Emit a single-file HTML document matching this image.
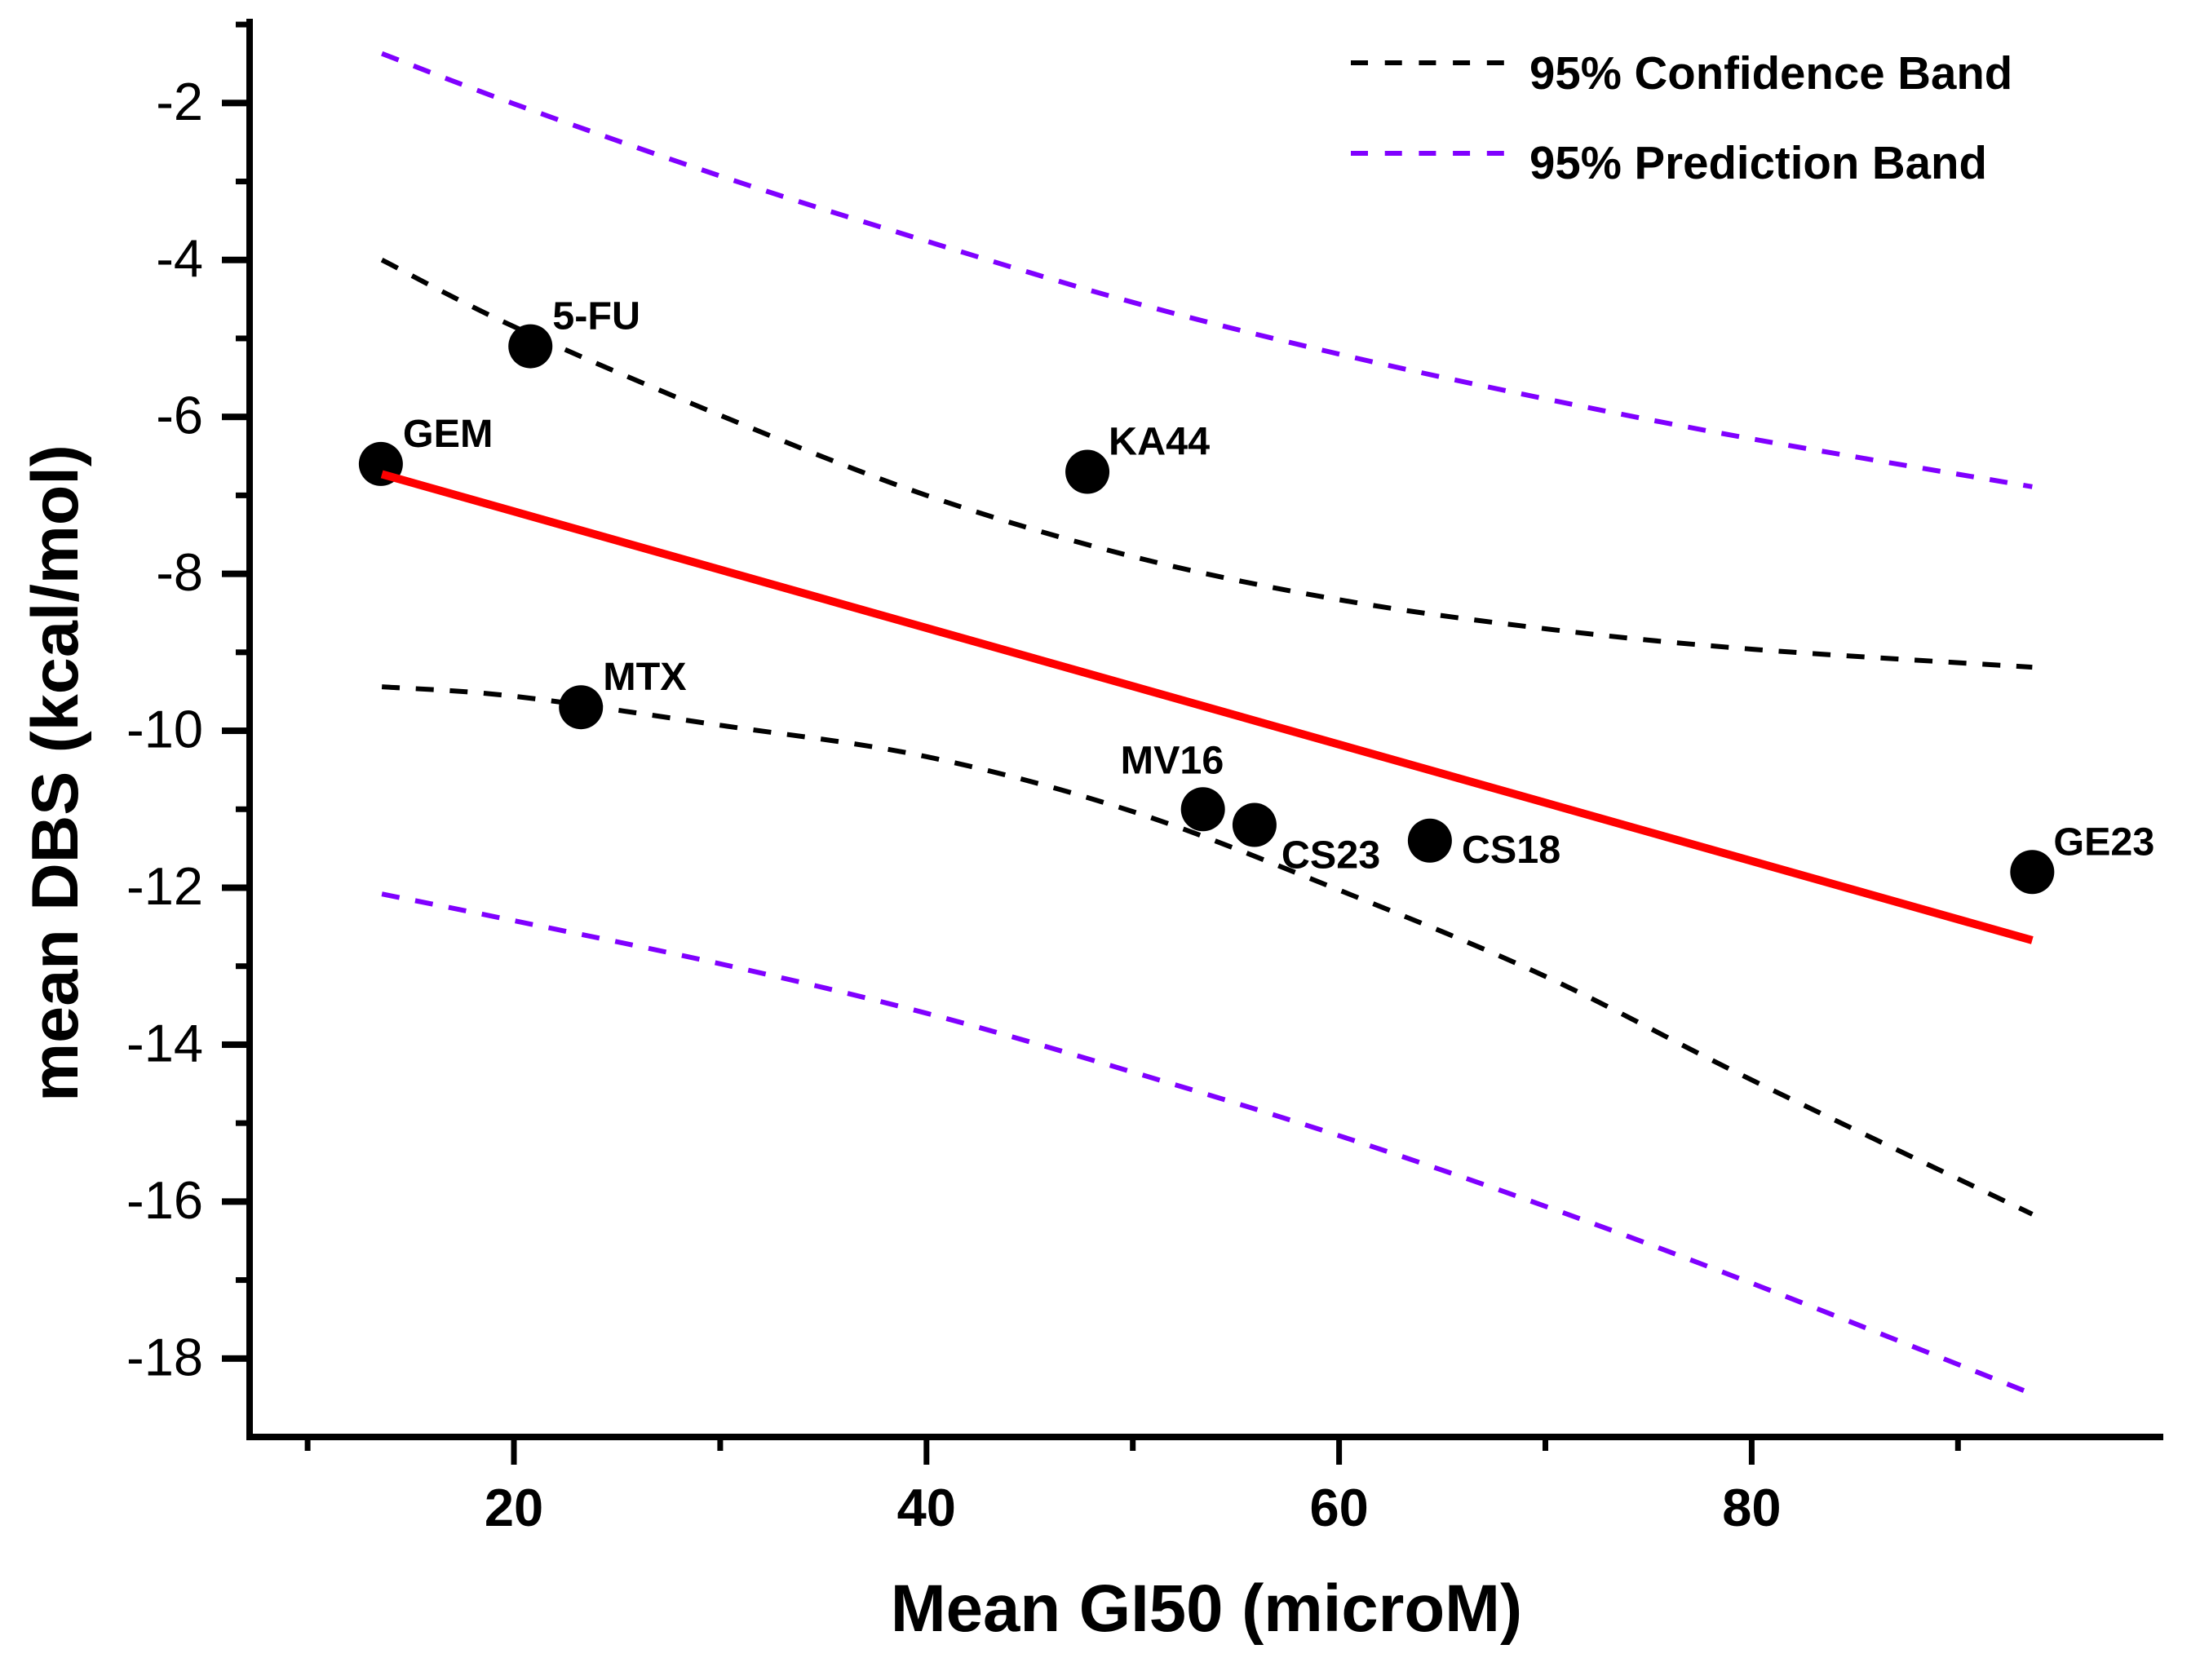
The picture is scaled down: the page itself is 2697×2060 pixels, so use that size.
<!DOCTYPE html>
<html lang="en">
<head>
<meta charset="utf-8">
<title>Mean DBS vs Mean GI50</title>
<style>
  html, body { margin: 0; padding: 0; background: #ffffff; }
  body { width: 2697px; height: 2060px; overflow: hidden; }
  svg { display: block; }
  text { font-family: "Liberation Sans", Arial, sans-serif; fill: #000000; }
  .bold { font-weight: 700; }
</style>
</head>
<body>
<svg id="chart" xmlns="http://www.w3.org/2000/svg" width="2697" height="2060" viewBox="0 0 2697 2060">
  <rect x="0" y="0" width="2697" height="2060" fill="#ffffff"/>
  <g id="bands"></g>
  <g id="points"></g>
  <g id="fit"></g>
  <g id="labels"></g>
  <g id="axes"></g>

  <text class="bold" font-size="81" text-anchor="middle" transform="translate(95 948) rotate(-90)">mean DBS (kcal/mol)</text>
  <text class="bold" font-size="81.5" text-anchor="middle" x="1479" y="2000">Mean GI50 (microM)</text>

  <g>
    <line x1="1656" y1="77" x2="1844" y2="77" stroke="#000000" stroke-width="6" stroke-dasharray="21 20.7"/>
    <text class="bold" font-size="56.4" x="1875" y="109">95% Confidence Band</text>
    <line x1="1656" y1="188" x2="1844" y2="188" stroke="#8000ff" stroke-width="6" stroke-dasharray="21 20.7"/>
    <text class="bold" font-size="56.4" x="1875" y="219">95% Prediction Band</text>
  </g>
</svg>
<script>
// ----- chart data -----
const pointNames = ["GEM", "5-FU", "KA44", "MTX", "MV16", "CS23", "CS18", "GE23"];
const pointGI50 = [13.55, 20.8, 47.8, 23.25, 53.4, 55.9, 64.4, 93.6];
const pointDBS = [-6.6, -5.1, -6.7, -9.7, -11.0, -11.2, -11.4, -11.8];

const fitGI50 = [13.6, 93.6];
const fitDBS = [-6.73, -12.67];

const bandGI50 = [13.6, 20, 30, 40, 50, 60, 70, 80, 93.6];
const confidenceUpper = [-4.0, -4.85, -5.98, -7.0, -7.78, -8.33, -8.7, -8.96, -9.19];
const confidenceLower = [-9.44, -9.56, -9.93, -10.33, -11.03, -12.03, -13.13, -14.45, -16.16];
const predictionUpper = [-1.37, -2.01, -2.93, -3.76, -4.54, -5.2, -5.77, -6.28, -6.89];
const predictionLower = [-12.08, -12.42, -12.97, -13.6, -14.35, -15.16, -16.06, -17.04, -18.45];

const xMajorTicks = [20, 40, 60, 80];
const xMinorTicks = [10, 30, 50, 70, 90];
const yMajorTicks = [-2, -4, -6, -8, -10, -12, -14, -16, -18];
const yMinorTicks = [-1, -3, -5, -7, -9, -11, -13, -15, -17];

// ----- axis functions -----
function xScale(v) { return 630 + (v - 20) * 25.29; }
function yScale(v) { return 126.3 + (-2 - v) * 96.22; }

const NS = "http://www.w3.org/2000/svg";
function make(tag, attrs, parent) {
  const node = document.createElementNS(NS, tag);
  Object.keys(attrs).forEach(function (k) { node.setAttribute(k, attrs[k]); });
  parent.appendChild(node);
  return node;
}

function smoothPath(xs, ys) {
  const p = xs.map(function (x, i) { return [xScale(x), yScale(ys[i])]; });
  let d = "M" + p[0][0] + " " + p[0][1];
  for (let i = 0; i < p.length - 1; i++) {
    const a = p[Math.max(i - 1, 0)], b = p[i], c = p[i + 1], e = p[Math.min(i + 2, p.length - 1)];
    d += " C" + (b[0] + (c[0] - a[0]) / 6) + " " + (b[1] + (c[1] - a[1]) / 6) + " " +
         (c[0] - (e[0] - b[0]) / 6) + " " + (c[1] - (e[1] - b[1]) / 6) + " " + c[0] + " " + c[1];
  }
  return d;
}

const bandsLayer = document.getElementById("bands");
const pointsLayer = document.getElementById("points");
const fitLayer = document.getElementById("fit");
const labelsLayer = document.getElementById("labels");
const axesLayer = document.getElementById("axes");

function bandStyle(color) {
  return { fill: "none", stroke: color, "stroke-width": 6, "stroke-dasharray": "22 19.7" };
}
function drawBand(values, color) {
  const attrs = bandStyle(color);
  attrs.d = smoothPath(bandGI50, values);
  return make("path", attrs, bandsLayer);
}

const upperPrediction = drawBand(predictionUpper, "#8000ff");


const lowerPrediction = drawBand(predictionLower, "#8000ff");


const upperConfidence = drawBand(confidenceUpper, "#000000");


const lowerConfidence = drawBand(confidenceLower, "#000000");



// data points and labels
function labelAnchor(name, px, py) {
  const offsets = {
    "GEM": [27, -21], "5-FU": [27, -21], "KA44": [26, -21], "MTX": [27, -21],
    "MV16": [-101, -44], "CS23": [33, 53], "CS18": [39, 27], "GE23": [26, -21]
  };
  return [px + offsets[name][0], py + offsets[name][1]];
}

pointNames.forEach(function (name, i) {
  const px = xScale(pointGI50[i]);
  const py = yScale(pointDBS[i]);
  const dot = make("circle", { cx: px, cy: py, r: 27, fill: "#000000" }, pointsLayer);
  
  
  const at = labelAnchor(name, px, py);
  const label = make("text", { x: at[0], y: at[1], "font-size": 48.5, "font-weight": 700 }, labelsLayer);
  label.textContent = name;
  
  
});

// fit line
const fitLine = make("line", {
  x1: xScale(fitGI50[0]), y1: yScale(fitDBS[0]),
  x2: xScale(fitGI50[1]), y2: yScale(fitDBS[1]),
  stroke: "#ff0000", "stroke-width": 10
}, fitLayer);



// axes
const yAxisLine = make("rect", { x: 302, y: 23, width: 8, height: 1743, fill: "#000000" }, axesLayer);


const xAxisLine = make("rect", { x: 302, y: 1758, width: 2350, height: 8, fill: "#000000" }, axesLayer);



yMajorTicks.forEach(function (v) {
  const tick = make("rect", { x: 272, y: yScale(v) - 4, width: 30, height: 8, fill: "#000000" }, axesLayer);
  
  
  const label = make("text", { x: 249, y: yScale(v) + 20.5, "font-size": 65, "text-anchor": "end" }, axesLayer);
  label.textContent = String(v);
  
  
});
yMinorTicks.forEach(function (v) {
  const tick = make("rect", { x: 289, y: yScale(v) - 3.5, width: 13, height: 7, fill: "#000000" }, axesLayer);
  
  
});
xMajorTicks.forEach(function (v) {
  const tick = make("rect", { x: xScale(v) - 3.5, y: 1766, width: 7, height: 30, fill: "#000000" }, axesLayer);
  
  
  const label = make("text", { x: xScale(v), y: 1871, "font-size": 65, "font-weight": 700, "text-anchor": "middle" }, axesLayer);
  label.textContent = String(v);
  
  
});
xMinorTicks.forEach(function (v) {
  const tick = make("rect", { x: xScale(v) - 3.5, y: 1766, width: 7, height: 13, fill: "#000000" }, axesLayer);
  
  
});
</script>
</body>
</html>
